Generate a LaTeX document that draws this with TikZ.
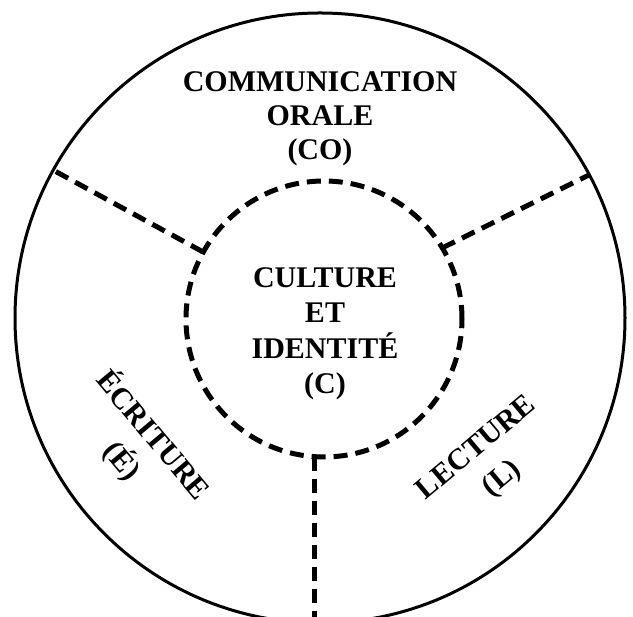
\documentclass[tikz,border=0pt]{standalone}
\usepackage{fontspec}
\setmainfont{Liberation Serif}
\usepackage{tikz}
\pgfdeclarelayer{bg}
\pgfsetlayers{bg,main}
\tikzset{
    every node/.style={inner sep=0mm, outer sep=0mm, align=center, font=\bfseries\fontsize{30}{34}\selectfont}
}
\tikzset{ring/.style={circle, draw, line width=3pt}}
\tikzset{core/.style={circle, draw, line width=5pt, dash pattern=on 14pt off 8pt}}
\tikzset{split/.style={line width=5pt, dash pattern=on 14pt off 8pt}}
\tikzset{slanted/.style={font=\bfseries\fontsize{30}{40}\selectfont}}

\begin{document}
\begin{tikzpicture}
        \useasboundingbox (0pt, 0pt) rectangle (633pt, 617pt);
        \node (outer) [ring, minimum size=610pt] at (320pt, 299pt) {};
        \node (inner) [core, minimum size=276pt] at (324pt, 298pt) {};
        \node (co) at (320pt, 498pt) {COMMUNICATION\\ORALE\\(CO)};
        \node (c) [font=\bfseries\fontsize{30}{35.5}\selectfont] at (325pt, 283pt) {CULTURE\\ET\\IDENTITÉ\\(C)};
        \node (e) [slanted, rotate=-50] at (138pt, 169pt) {ÉCRITURE\\(É)};
        \node (l) [slanted, rotate=40] at (490pt, 153pt) {LECTURE\\(L)};
        \begin{pgfonlayer}{bg}
                \draw (inner.151) edge [split] (outer.151);
                \draw (inner.31) edge [split] (outer.28);
                \draw (inner.266) edge [split] (inner.266 |- outer.south);
        \end{pgfonlayer}
\end{tikzpicture}
\end{document}
